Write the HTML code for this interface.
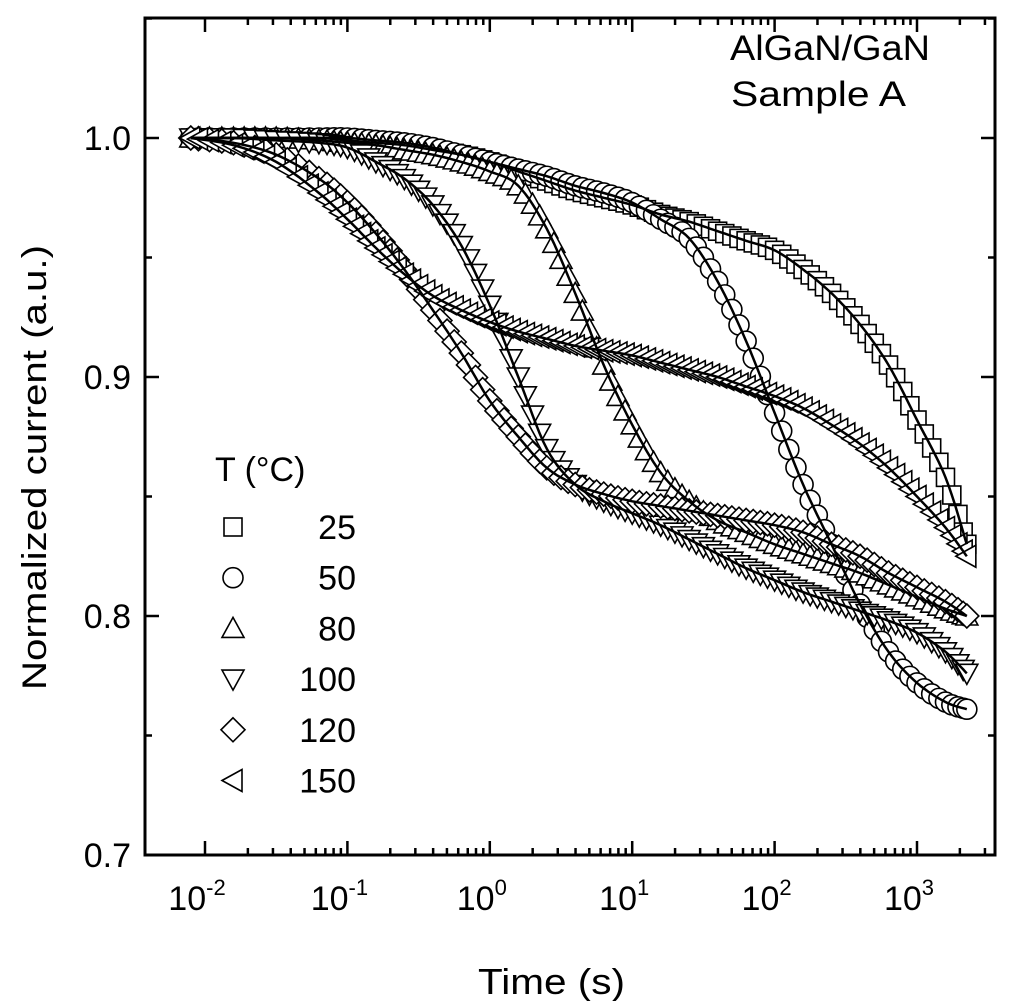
<!DOCTYPE html>
<html><head><meta charset="utf-8"><style>
body{margin:0;background:#fff;}
svg text{font-family:"Liberation Sans",Arial,sans-serif;fill:#000;}
</style></head><body>
<svg id="chart" width="1024" height="1001" viewBox="0 0 1024 1001" xmlns="http://www.w3.org/2000/svg">
<g id="axes"></g>
<g id="series"></g>
<g id="legend"></g>
<text x="730" y="60" font-size="35" textLength="200" lengthAdjust="spacingAndGlyphs">AlGaN/GaN</text>
<text x="731" y="106" font-size="35" textLength="175" lengthAdjust="spacingAndGlyphs">Sample A</text>
<text x="478" y="994" font-size="36" textLength="147" lengthAdjust="spacingAndGlyphs">Time (s)</text>
<text transform="translate(46,690) rotate(-90)" font-size="34" textLength="445" lengthAdjust="spacingAndGlyphs">Normalized current (a.u.)</text>
</svg>
<script>
const logT=[-2.1,-1.8,-1.5,-1.2,-1.0,-0.8,-0.6,-0.4,-0.2,0,0.2,0.4,0.6,0.8,1.0,1.2,1.4,1.6,1.8,2.0,2.2,2.4,2.6,2.8,3.0,3.2,3.35];
const s25=[1.0,1.0,1.0,1.0,0.999,0.998,0.997,0.995,0.993,0.99,0.986,0.982,0.978,0.975,0.972,0.968,0.965,0.961,0.957,0.953,0.945,0.935,0.922,0.905,0.882,0.858,0.83];
const s50=[1.0,1.0,1.0,1.0,1.0,0.999,0.998,0.996,0.993,0.99,0.987,0.984,0.98,0.977,0.973,0.966,0.958,0.94,0.915,0.885,0.855,0.83,0.805,0.785,0.772,0.764,0.761];
const s80=[1.0,1.0,1.0,0.999,0.998,0.997,0.995,0.993,0.99,0.986,0.98,0.962,0.935,0.905,0.88,0.86,0.848,0.84,0.835,0.83,0.826,0.822,0.818,0.813,0.808,0.803,0.80];
const s100=[1.0,1.0,0.999,0.998,0.996,0.99,0.983,0.972,0.955,0.93,0.9,0.87,0.855,0.848,0.843,0.838,0.832,0.826,0.82,0.815,0.81,0.806,0.802,0.798,0.793,0.785,0.776];
const s120=[1.0,0.998,0.993,0.983,0.973,0.96,0.945,0.928,0.91,0.89,0.875,0.862,0.855,0.851,0.848,0.846,0.844,0.842,0.84,0.838,0.835,0.83,0.825,0.818,0.812,0.806,0.80];
const s150=[1.0,0.997,0.99,0.977,0.966,0.954,0.943,0.934,0.928,0.923,0.919,0.916,0.913,0.911,0.909,0.906,0.903,0.9,0.896,0.892,0.887,0.88,0.872,0.862,0.85,0.837,0.825];
const seriesNames=["25","50","80","100","120","150"];
const seriesShapes=["square","circle","up","down","diamond","left"];
const yTicks=[0.7,0.8,0.9,1.0];
const yTickLabels=["0.7","0.8","0.9","1.0"];
const xDecades=[-2,-1,0,1,2,3];

const NS="http://www.w3.org/2000/svg";
const L=145,R=995,T=18,B=855;
const X=lt=>205+(lt+2)*142.4;
const Y=v=>855-(v-0.7)*2390;
function mk(tag,attrs,parent){const e=document.createElementNS(NS,tag);for(const k in attrs)e.setAttribute(k,attrs[k]);parent.appendChild(e);return e;}
const axes=document.getElementById('axes');
const frame=mk('rect',{x:L,y:T,width:R-L,height:B-T,fill:'none',stroke:'#000','stroke-width':3},axes);


xDecades.forEach(d=>{
 for(let m=1;m<10;m++){
  const x=X(d+Math.log10(m)); if(x<L||x>R)continue;
  const len=m===1?14:7;
  const t1=mk('line',{x1:x,x2:x,y1:B,y2:B-len,stroke:'#000','stroke-width':2.5},axes);
  
  
  const t2=mk('line',{x1:x,x2:x,y1:T,y2:T+len,stroke:'#000','stroke-width':2.5},axes);
  
  
 }
 const lt=document.createElementNS(NS,'text');
 
 
 lt.setAttribute('x',X(d)-8);lt.setAttribute('y',B+55);lt.setAttribute('font-size','34');lt.setAttribute('text-anchor','middle');
 lt.innerHTML='10<tspan dy="-15" font-size="22">'+d+'</tspan>';
 axes.appendChild(lt);
});
for(let v=0.7;v<=1.051;v+=0.05){
 const y=Y(v);const major=Math.abs(v*10-Math.round(v*10))<0.01;const len=major?14:7;
 const a=mk('line',{x1:L,x2:L+len,y1:y,y2:y,stroke:'#000','stroke-width':2.5},axes);
 
 
 const b=mk('line',{x1:R,x2:R-len,y1:y,y2:y,stroke:'#000','stroke-width':2.5},axes);
 
 
}
yTicks.forEach((v,i)=>{
 const t=mk('text',{x:L-14,y:Y(v)+12,'font-size':34,'text-anchor':'end'},axes);
 
 
 t.textContent=yTickLabels[i];
});
function marker(shape,x,y,parent){
 const s=10;let e;const st={fill:'#fff',stroke:'#000','stroke-width':1.6};
 if(shape==='square')e=mk('rect',Object.assign({x:x-s+1,y:y-s+1,width:2*s-2,height:2*s-2},st),parent);
 else if(shape==='circle')e=mk('circle',Object.assign({cx:x,cy:y,r:s},st),parent);
 else{let p;
  if(shape==='up')p=[[x,y-s-1],[x+s+1,y+s-1],[x-s-1,y+s-1]];
  if(shape==='down')p=[[x,y+s+1],[x+s+1,y-s+1],[x-s-1,y-s+1]];
  if(shape==='diamond')p=[[x,y-s-2],[x+s+2,y],[x,y+s+2],[x-s-2,y]];
  if(shape==='left')p=[[x-s-1,y],[x+s-1,y-s-1],[x+s-1,y+s+1]];
  e=mk('polygon',Object.assign({points:p.map(q=>q.join(',')).join(' ')},st),parent);}
 return e;
}
function curvePts(vals){
 const P=vals.map((v,j)=>[X(logT[j]),Y(v)]);const out=[];
 for(let i=0;i<P.length-1;i++){
  const p0=P[Math.max(0,i-1)],p1=P[i],p2=P[i+1],p3=P[Math.min(P.length-1,i+2)];
  const n=8;
  for(let k=0;k<n;k++){const t=k/n,t2=t*t,t3=t2*t;
   const f=(a,b,c,d)=>0.5*((2*b)+(-a+c)*t+(2*a-5*b+4*c-d)*t2+(-a+3*b-3*c+d)*t3);
   out.push([f(p0[0],p1[0],p2[0],p3[0]),f(p0[1],p1[1],p2[1],p3[1])]);}
 }
 out.push(P[P.length-1]);return out;
}
const allSeries=[s25,s50,s80,s100,s120,s150];
const sg=document.getElementById('series');
allSeries.forEach((vals,i)=>{
 const g=mk('g',{},sg);
 
 
 const pts=curvePts(vals);
 pts.forEach((p,j)=>{
  if(j%2!==0 && j!==pts.length-1)return;
  const m=marker(seriesShapes[i],p[0],p[1],g);
  
  
 });
});
allSeries.forEach((vals,i)=>{
 const pts=curvePts(vals);
 const d=pts.map((p,j)=>(j?'L':'M')+p[0].toFixed(1)+','+p[1].toFixed(1)).join(' ');
 const p=mk('path',{d:d,fill:'none',stroke:'#000','stroke-width':2.5},sg);
 
 
});
const lg=document.getElementById('legend');
const lt=mk('text',{x:215,y:481,'font-size':34},lg);


lt.textContent='T (°C)';
seriesNames.forEach((n,i)=>{
 const y=527+i*50.7;
 const g=mk('g',{},lg);
 
 
 marker(seriesShapes[i],233,y,g);
 const t=mk('text',{x:356,y:y+12,'font-size':34,'text-anchor':'end'},g);
 t.textContent=n;
});
</script>
</body></html>
